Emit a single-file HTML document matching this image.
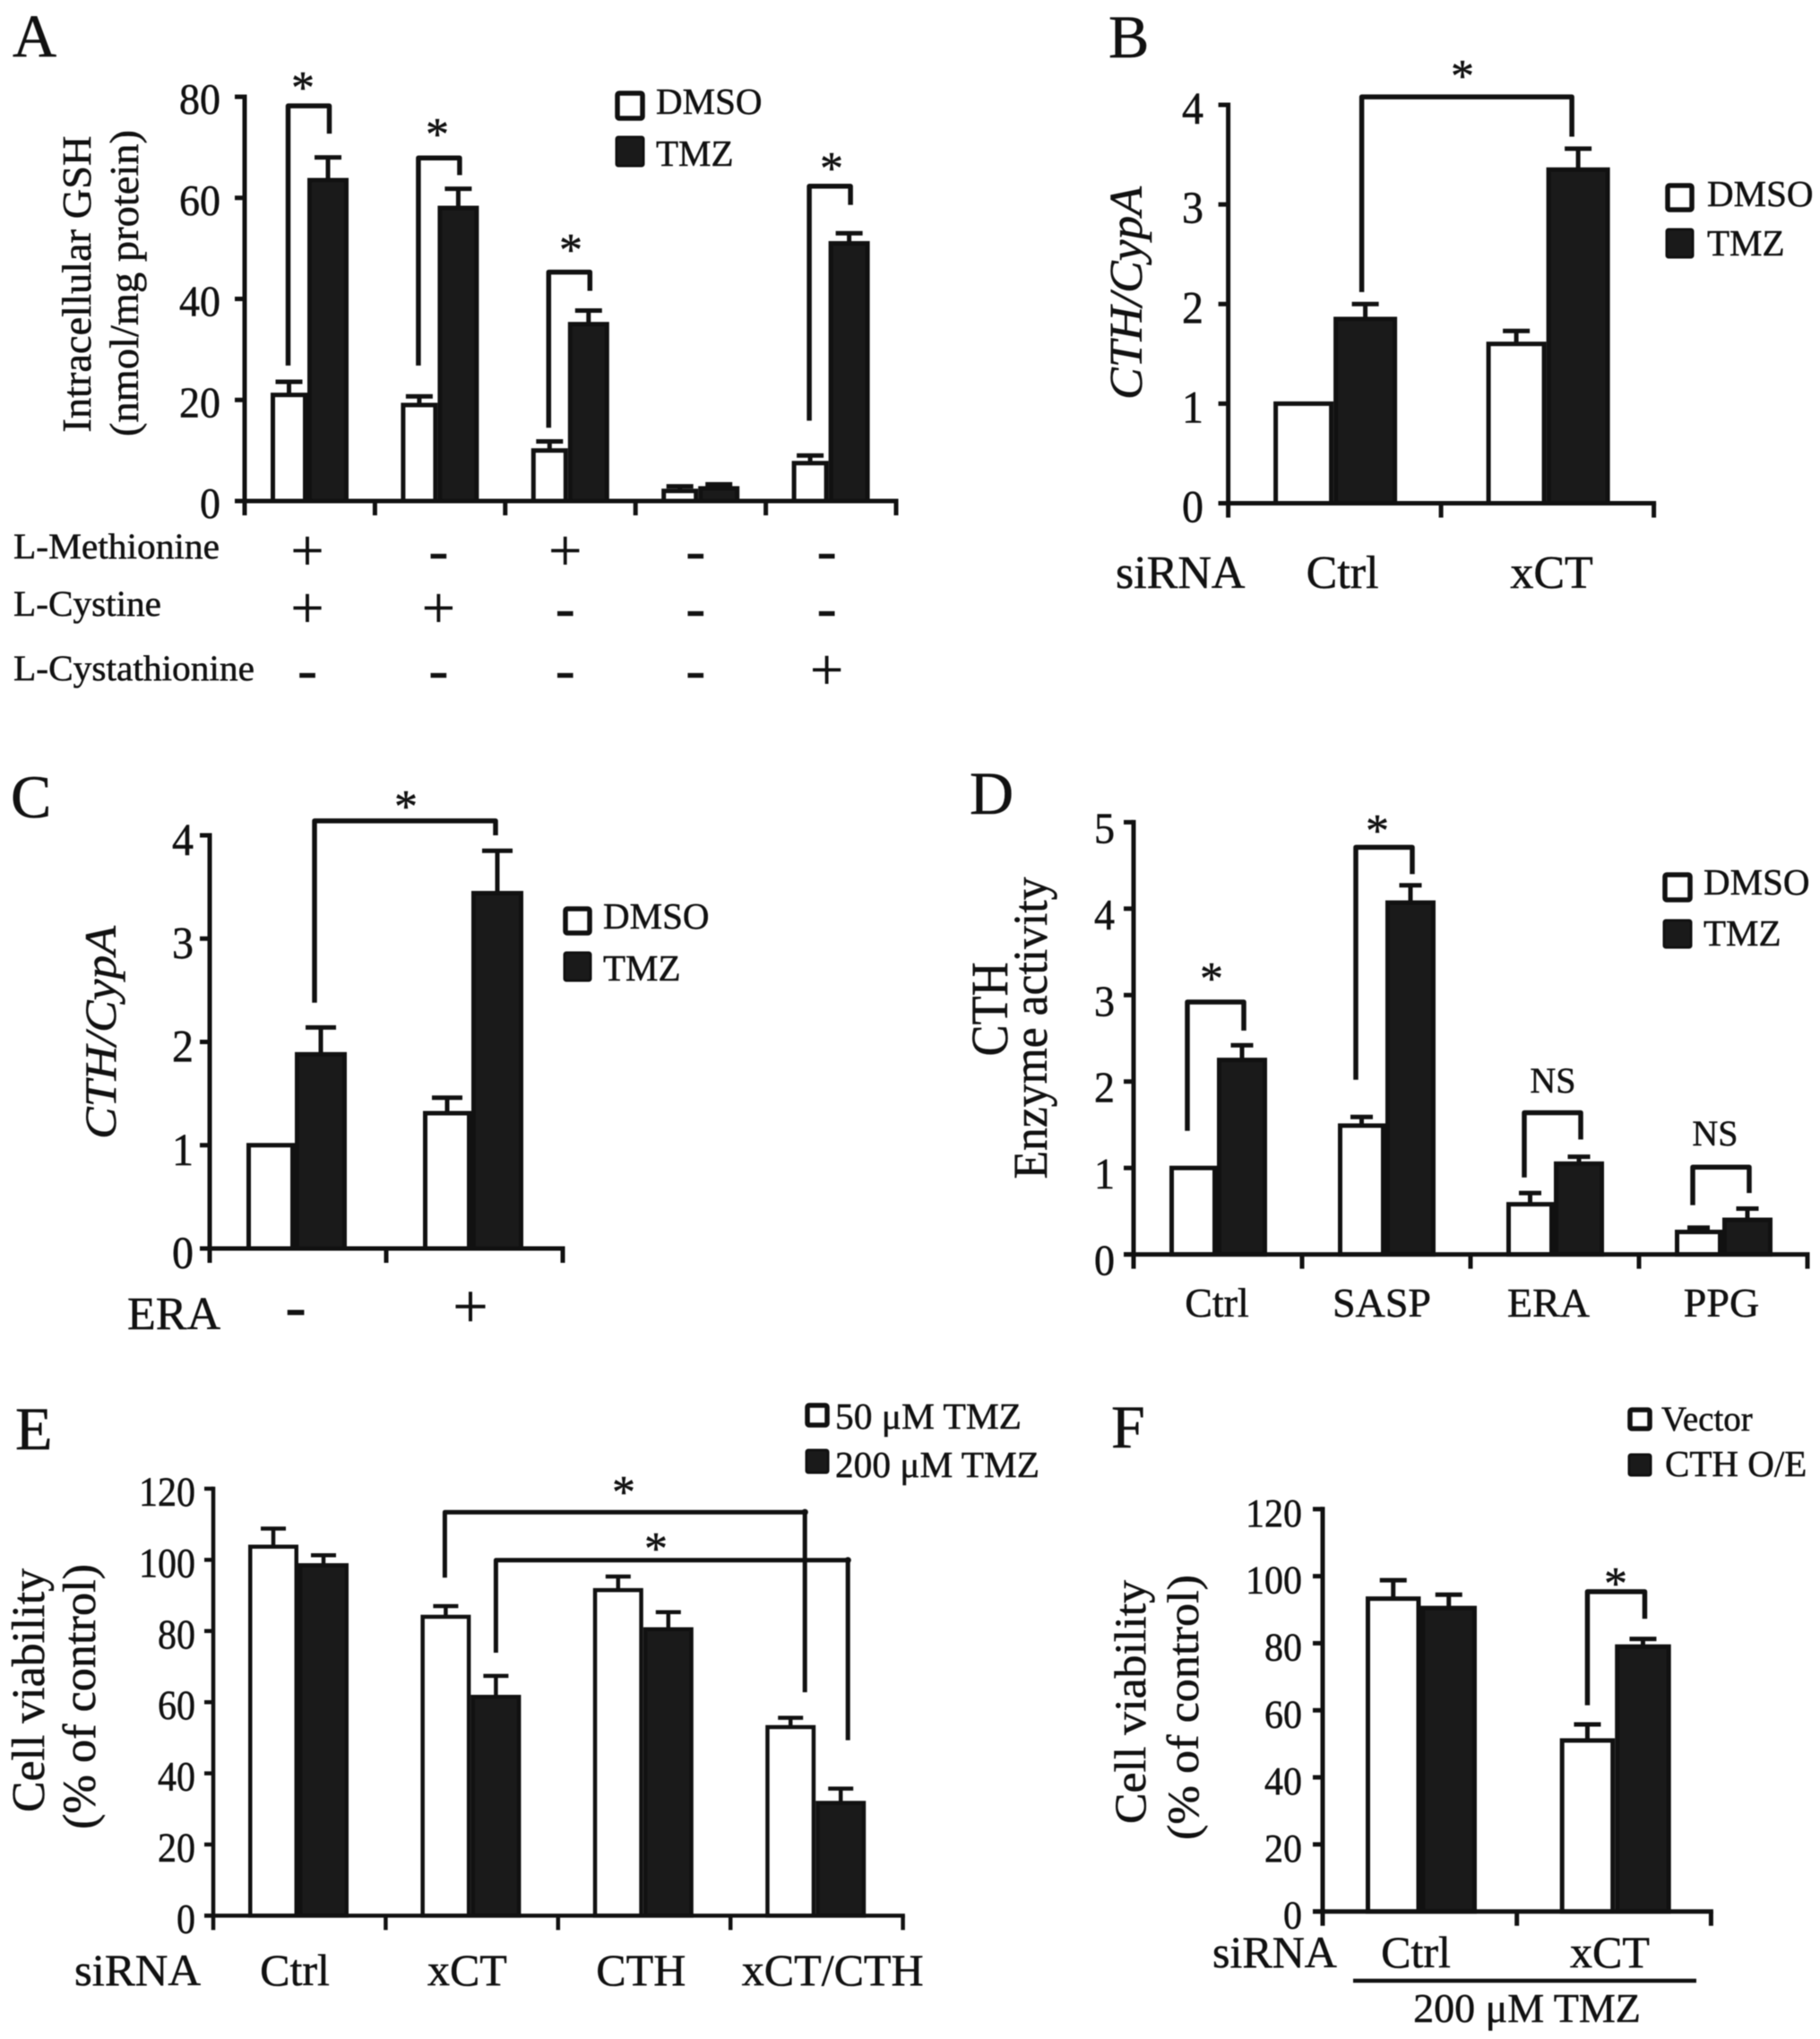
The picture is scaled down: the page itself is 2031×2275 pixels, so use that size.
<!DOCTYPE html>
<html lang="en">
<head>
<meta charset="utf-8">
<title>CTH and GSH bar chart figure</title>
<style>
html,body{margin:0;padding:0;background:#fff;}
#figure{display:block;width:2031px;height:2275px;filter:blur(0.5px);}
text{font-family:"Liberation Serif","DejaVu Serif",serif;fill:#111;stroke:#111;stroke-width:0.5px;}
.box-w{fill:#fff;stroke:#111;stroke-width:5.5;}
.box-k{fill:#1a1a1a;stroke:#111;stroke-width:3;}
</style>
</head>
<body>
<svg id="figure" xmlns="http://www.w3.org/2000/svg" width="2031" height="2275" viewBox="0 0 2031 2275">
<rect x="0" y="0" width="2031" height="2275" fill="#fff"/>

<g id="panel-a">
  <text x="14" y="63" font-size="68">A</text>
  <text transform="translate(101,317) rotate(-90)" text-anchor="middle" font-size="46" textLength="331" lengthAdjust="spacingAndGlyphs">Intracellular GSH</text>
  <text transform="translate(154,316) rotate(-90)" text-anchor="middle" font-size="45" textLength="342" lengthAdjust="spacingAndGlyphs">(nmol/mg protein)</text>
  <g>
    <rect class="box-w" x="689" y="104" width="28" height="28" rx="2"/>
    <text x="732" y="127" font-size="41">DMSO</text>
    <rect class="box-k" x="688" y="153" width="30" height="32" rx="2"/>
    <text x="732" y="185" font-size="41">TMZ</text>
  </g>
  <text x="338" y="115" font-size="52" text-anchor="middle">*</text>
  <text x="488" y="167" font-size="52" text-anchor="middle">*</text>
  <text x="637" y="296" font-size="52" text-anchor="middle">*</text>
  <text x="928" y="205" font-size="52" text-anchor="middle">*</text>
  <text x="15" y="623" font-size="40" textLength="230" lengthAdjust="spacingAndGlyphs">L-Methionine</text>
  <text x="15" y="687" font-size="40" textLength="165" lengthAdjust="spacingAndGlyphs">L-Cystine</text>
  <text x="15" y="759" font-size="40" textLength="269" lengthAdjust="spacingAndGlyphs">L-Cystathionine</text>
</g>

<g id="panel-b">
  <text x="1237" y="64" font-size="68">B</text>
  <text transform="translate(1274,327) rotate(-90)" text-anchor="middle" font-size="52" font-style="italic" textLength="238" lengthAdjust="spacingAndGlyphs">CTH/CypA</text>
  <g>
    <rect class="box-w" x="1861" y="207" width="27" height="27" rx="2"/>
    <text x="1905" y="230" font-size="41">DMSO</text>
    <rect class="box-k" x="1860" y="256" width="29" height="31" rx="2"/>
    <text x="1905" y="285" font-size="41">TMZ</text>
  </g>
  <text x="1632" y="102" font-size="52" text-anchor="middle">*</text>
  <text x="1245" y="656" font-size="52">siRNA</text>
</g>

<g id="panel-c">
  <text x="12" y="912" font-size="68">C</text>
  <text transform="translate(129,1152) rotate(-90)" text-anchor="middle" font-size="50" font-style="italic" textLength="238" lengthAdjust="spacingAndGlyphs">CTH/CypA</text>
  <g>
    <rect class="box-w" x="631" y="1014" width="27" height="27" rx="2"/>
    <text x="673" y="1036" font-size="41">DMSO</text>
    <rect class="box-k" x="630" y="1063" width="29" height="31" rx="2"/>
    <text x="673" y="1094" font-size="41">TMZ</text>
  </g>
  <text x="453" y="917" font-size="52" text-anchor="middle">*</text>
  <text x="142" y="1483" font-size="52">ERA</text>
</g>

<g id="panel-d">
  <text x="1082" y="908" font-size="68">D</text>
  <text transform="translate(1124,1126) rotate(-90)" text-anchor="middle" font-size="58" textLength="105" lengthAdjust="spacingAndGlyphs">CTH</text>
  <text transform="translate(1168,1147) rotate(-90)" text-anchor="middle" font-size="54" textLength="337" lengthAdjust="spacingAndGlyphs">Enzyme activity</text>
  <g>
    <rect class="box-w" x="1858" y="976" width="28" height="28" rx="2"/>
    <text x="1901" y="998" font-size="41">DMSO</text>
    <rect class="box-k" x="1857" y="1027" width="30" height="30" rx="2"/>
    <text x="1901" y="1055" font-size="41">TMZ</text>
  </g>
  <text x="1352" y="1109" font-size="52" text-anchor="middle">*</text>
  <text x="1537" y="944" font-size="52" text-anchor="middle">*</text>
  <text x="1733" y="1219" font-size="40" text-anchor="middle">NS</text>
  <text x="1914" y="1278" font-size="40" text-anchor="middle">NS</text>
</g>

<g id="panel-e">
  <text x="17" y="1617" font-size="68">E</text>
  <text transform="translate(49,1886) rotate(-90)" text-anchor="middle" font-size="52" textLength="272" lengthAdjust="spacingAndGlyphs">Cell viability</text>
  <text transform="translate(106,1893) rotate(-90)" text-anchor="middle" font-size="52" textLength="296" lengthAdjust="spacingAndGlyphs">(% of control)</text>
  <g>
    <rect class="box-w" x="901" y="1568" width="22" height="22" rx="2"/>
    <text x="932" y="1594" font-size="41" textLength="208" lengthAdjust="spacingAndGlyphs">50 μM TMZ</text>
    <rect class="box-k" x="900" y="1618" width="24" height="25" rx="2"/>
    <text x="932" y="1648" font-size="41" textLength="228" lengthAdjust="spacingAndGlyphs">200 μM TMZ</text>
  </g>
  <text x="696" y="1682" font-size="52" text-anchor="middle">*</text>
  <text x="732" y="1745" font-size="52" text-anchor="middle">*</text>
  <text x="83" y="2215" font-size="50" textLength="141" lengthAdjust="spacingAndGlyphs">siRNA</text>
</g>

<g id="panel-f">
  <text x="1240" y="1615" font-size="68">F</text>
  <text transform="translate(1278,1899) rotate(-90)" text-anchor="middle" font-size="50" textLength="272" lengthAdjust="spacingAndGlyphs">Cell viability</text>
  <text transform="translate(1337,1905) rotate(-90)" text-anchor="middle" font-size="50" textLength="296" lengthAdjust="spacingAndGlyphs">(% of control)</text>
  <g>
    <rect class="box-w" x="1819" y="1573" width="22" height="21" rx="2"/>
    <text x="1854" y="1596" font-size="39">Vector</text>
    <rect class="box-k" x="1818" y="1623" width="24" height="23" rx="2"/>
    <text x="1858" y="1647" font-size="41">CTH O/E</text>
  </g>
  <text x="1803" y="1784" font-size="52" text-anchor="middle">*</text>
  <text x="1353" y="2195" font-size="50">siRNA</text>
  <line x1="1510" y1="2210" x2="1893" y2="2210" stroke="#111" stroke-width="4.5"/>
  <text x="1704" y="2256" font-size="46" text-anchor="middle">200 μM TMZ</text>
</g>
</svg>

<script>
// ---------- Panel A data ----------
const aTickLabels = ['0', '20', '40', '60', '80'];
const aDmso = [21, 19, 10, 2, 7.5];
const aTmz = [63.5, 58, 35, 2.5, 51];
const aDmsoTop = [23.6, 20.7, 11.8, 2.9, 9];
const aTmzTop = [68, 61.8, 37.7, 3.3, 53];
const aBracketTop = [78.2, 67.9, 45.3, 62.3];
const aBracketLeftEnd = [26.8, 26.8, 14.5, 15.9];
const aBracketRightEnd = [72.7, 64.5, 41.6, 58.6];
const aBracketGroups = [0, 1, 2, 4];
const aMethionine = ['+', '-', '+', '-', '-'];
const aCystine = ['+', '+', '-', '-', '-'];
const aCystathionine = ['-', '-', '-', '-', '+'];

// ---------- Panel B data ----------
const bTickLabels = ['0', '1', '2', '3', '4'];
const bCategories = ['Ctrl', 'xCT'];
const bDmso = [1, 1.6];
const bTmz = [1.85, 3.35];
const bDmsoTop = [1, 1.73];
const bTmzTop = [2.0, 3.56];
const bBracketTop = [4.08];
const bBracketLeftEnd = [2.12];
const bBracketRightEnd = [3.68];

// ---------- Panel C data ----------
const cTickLabels = ['0', '1', '2', '3', '4'];
const cCategories = ['-', '+'];
const cDmso = [1, 1.31];
const cTmz = [1.88, 3.44];
const cDmsoTop = [1, 1.46];
const cTmzTop = [2.14, 3.85];
const cBracketTop = [4.14];
const cBracketLeftEnd = [2.38];
const cBracketRightEnd = [4.0];

// ---------- Panel D data ----------
const dTickLabels = ['0', '1', '2', '3', '4', '5'];
const dCategories = ['Ctrl', 'SASP', 'ERA', 'PPG'];
const dDmso = [1, 1.49, 0.58, 0.26];
const dTmz = [2.25, 4.07, 1.05, 0.4];
const dDmsoTop = [1, 1.59, 0.71, 0.31];
const dTmzTop = [2.42, 4.27, 1.13, 0.53];
const dBracketTop = [2.92, 4.71, 1.64, 1.01];
const dBracketLeftEnd = [1.43, 2.02, 0.89, 0.57];
const dBracketRightEnd = [2.59, 4.4, 1.33, 0.71];

// ---------- Panel E data ----------
const eTickLabels = ['0', '20', '40', '60', '80', '100', '120'];
const eCategories = ['Ctrl', 'xCT', 'CTH', 'xCT/CTH'];
const e50um = [103.7, 84, 91.5, 53];
const e200um = [98.5, 61.5, 80.5, 31.7];
const e50umTop = [108.8, 87, 95.3, 55.6];
const e200umTop = [101.3, 67.4, 85.3, 35.7];
const eBracketTop = [113.4, 99.9];
const eBracketLeftEnd = [95, 73.9];
const eBracketRightEnd = [62.8, 49.3];

// ---------- Panel F data ----------
const fTickLabels = ['0', '20', '40', '60', '80', '100', '120'];
const fCategories = ['Ctrl', 'xCT'];
const fVector = [93.3, 51];
const fCthOe = [90.5, 79];
const fVectorTop = [98.8, 55.8];
const fCthOeTop = [94.5, 81.3];
const fBracketTop = [95.4];
const fBracketLeftEnd = [61.5];
const fBracketRightEnd = [87.3];

const SVGNS = 'http://www.w3.org/2000/svg';
const INK = '#111';
const FILL_DARK = '#1a1a1a';

function shape(parent, tag, name, attrs) {
  const el = document.createElementNS(SVGNS, tag);
  for (const k in attrs) el.setAttribute(k, attrs[k]);
  
  
  parent.appendChild(el);
  return el;
}
function label(parent, name, str, attrs) {
  const el = shape(parent, 'text', name, attrs);
  el.textContent = str;
  return el;
}

function drawPanel(p) {
  const root = document.getElementById(p.id);
  const yMax = parseFloat(p.ticks[p.ticks.length - 1]);
  const y = v => p.yZero - (v / yMax) * (p.yZero - p.yTop);
  const gx = i => p.axisX + i * p.groupW;
  const whiteX = i => gx(i) + p.whiteOff;
  const blackX = i => whiteX(i) + p.whiteW;
  const whiteC = i => whiteX(i) + p.whiteW / 2;
  const blackC = i => blackX(i) + p.blackW / 2;
  const sw = p.sw;

  function errorBar(name, cx, from, to) {
    shape(root, 'line', name + '-stem', {x1: cx, x2: cx, y1: y(from), y2: y(to), stroke: INK, 'stroke-width': sw});
    shape(root, 'line', name + '-cap', {x1: cx - p.capW / 2, x2: cx + p.capW / 2, y1: y(to), y2: y(to), stroke: INK, 'stroke-width': sw});
  }

  p.series0.forEach((v, i) => {
    if (p.top0[i] > v) errorBar('error-bar-' + p.key + '-s1-' + i, whiteC(i), v, p.top0[i]);
    if (p.top1[i] > p.series1[i]) errorBar('error-bar-' + p.key + '-s2-' + i, blackC(i), p.series1[i], p.top1[i]);
    shape(root, 'rect', 'bar-' + p.key + '-s1-' + i, {
      x: whiteX(i) + sw / 2, y: y(v), width: p.whiteW - sw, height: p.yZero - y(v),
      fill: '#fff', stroke: INK, 'stroke-width': sw
    });
    shape(root, 'rect', 'bar-' + p.key + '-s2-' + i, {
      x: blackX(i) + sw / 2, y: y(p.series1[i]), width: p.blackW - sw, height: p.yZero - y(p.series1[i]),
      fill: FILL_DARK, stroke: INK, 'stroke-width': sw
    });
  });

  // axes
  const lastX = gx(p.groups);
  shape(root, 'line', 'y-axis-' + p.key, {x1: p.axisX, x2: p.axisX, y1: p.yTop - sw / 2, y2: p.yZero, stroke: INK, 'stroke-width': sw});
  shape(root, 'line', 'x-axis-' + p.key, {x1: p.axisX - p.tickY, x2: lastX + sw / 2, y1: p.yZero, y2: p.yZero, stroke: INK, 'stroke-width': sw});
  for (let i = 0; i <= p.groups; i++) {
    shape(root, 'line', 'x-tick-' + p.key + '-' + i, {x1: gx(i), x2: gx(i), y1: p.yZero, y2: p.yZero + p.tickX, stroke: INK, 'stroke-width': sw});
  }
  p.ticks.forEach(t => {
    const ty = y(parseFloat(t));
    shape(root, 'line', 'y-tick-' + p.key + '-' + t, {x1: p.axisX - p.tickY, x2: p.axisX, y1: ty, y2: ty, stroke: INK, 'stroke-width': sw});
    label(root, 'y-tick-label-' + p.key + '-' + t, t, {
      transform: 'translate(' + p.labelRight + ',' + (ty + p.labelDy) + ') scale(1,' + p.labelSy + ')',
      'text-anchor': 'end', 'font-size': p.labelFs
    });
  });

  // brackets
  p.brackets.forEach((b, i) => {
    const xl = b.left(gx, whiteC, blackC);
    const xr = b.right(gx, whiteC, blackC);
    const d = 'M' + xl + ' ' + y(p.brLeft[i]) + ' V' + y(p.brTop[i]) + ' H' + xr + ' V' + y(p.brRight[i]);
    shape(root, 'path', 'bracket-' + p.key + '-' + i, {d: d, fill: 'none', stroke: INK, 'stroke-width': sw + 0.5, 'stroke-linejoin': 'round'});
    if (p.brDots) {
      shape(root, 'circle', 'bracket-end-' + p.key + '-' + i, {cx: xr, cy: y(p.brTop[i]), r: sw * 0.8, fill: INK});
    }
  });

  // category labels
  if (p.categories) {
    p.categories.forEach((c, i) => {
      label(root, 'category-label-' + p.key + '-' + i, c, {
        x: gx(i) + p.catOffsets[i], y: p.catY, 'text-anchor': 'middle', 'font-size': p.catFs
      });
    });
  }
  return {gx: gx};
}

const panelA = drawPanel({
  id: 'panel-a', key: 'a', axisX: 273, yTop: 108, yZero: 559, groupW: 145.4, groups: 5,
  whiteOff: 29, whiteW: 41, blackW: 46, capW: 30, sw: 5, tickY: 11, tickX: 16,
  ticks: aTickLabels, labelRight: 246, labelFs: 46, labelDy: 19, labelSy: 1.05,
  series0: aDmso, series1: aTmz, top0: aDmsoTop, top1: aTmzTop,
  brTop: aBracketTop, brLeft: aBracketLeftEnd, brRight: aBracketRightEnd,
  brackets: aBracketGroups.map(g => ({
    left: (gx) => gx(g) + 48.5,
    right: (gx) => gx(g) + 94.5
  }))
});

// L-amino-acid rows under panel A
const aRoot = document.getElementById('panel-a');
const aSignOffsets = [70, 71, 67, 67, 68];
[[aMethionine, 636, 'methionine'], [aCystine, 700, 'cystine'], [aCystathionine, 769, 'cystathionine']].forEach(row => {
  row[0].forEach((s, i) => {
    label(aRoot, 'sign-' + row[2] + '-' + i, s, {
      x: panelA.gx(i) + aSignOffsets[i], y: row[1], 'text-anchor': 'middle', 'font-size': 66
    });
  });
});

drawPanel({
  id: 'panel-b', key: 'b', axisX: 1370.6, yTop: 117, yZero: 561.5, groupW: 237.5, groups: 2,
  whiteOff: 50.5, whiteW: 67, blackW: 71, capW: 30, sw: 5, tickY: 11, tickX: 16,
  ticks: bTickLabels, labelRight: 1343, labelFs: 48, labelDy: 21, labelSy: 1.05,
  series0: bDmso, series1: bTmz, top0: bDmsoTop, top1: bTmzTop,
  brTop: bBracketTop, brLeft: bBracketLeftEnd, brRight: bBracketRightEnd,
  brackets: [{
    left: (gx, w, k) => k(0) - 4,
    right: (gx, w, k) => k(1) - 7
  }],
  categories: bCategories, catOffsets: [127.5, 123.5], catY: 656, catFs: 52
});

drawPanel({
  id: 'panel-c', key: 'c', axisX: 234, yTop: 932, yZero: 1393, groupW: 197, groups: 2,
  whiteOff: 41, whiteW: 54, blackW: 58, capW: 34, sw: 5, tickY: 11, tickX: 16,
  ticks: cTickLabels, labelRight: 216, labelFs: 48, labelDy: 22, labelSy: 1.05,
  series0: cDmso, series1: cTmz, top0: cDmsoTop, top1: cTmzTop,
  brTop: cBracketTop, brLeft: cBracketLeftEnd, brRight: cBracketRightEnd,
  brackets: [{
    left: (gx, w, k) => k(0) - 7,
    right: (gx, w, k) => k(1) - 2
  }],
  categories: cCategories, catOffsets: [96, 94], catY: 1481, catFs: 70
});

drawPanel({
  id: 'panel-d', key: 'd', axisX: 1265, yTop: 917.4, yZero: 1399.6, groupW: 188, groups: 4,
  whiteOff: 40, whiteW: 53, blackW: 56, capW: 25, sw: 5, tickY: 11, tickX: 16,
  ticks: dTickLabels, labelRight: 1244, labelFs: 46, labelDy: 23, labelSy: 1.05,
  series0: dDmso, series1: dTmz, top0: dDmsoTop, top1: dTmzTop,
  brTop: dBracketTop, brLeft: dBracketLeftEnd, brRight: dBracketRightEnd,
  brackets: dCategories.map((_, g) => ({
    left: (gx) => gx(g) + 60,
    right: (gx) => gx(g) + 123
  })),
  categories: dCategories, catOffsets: [93, 89, 87, 92], catY: 1469, catFs: 46
});

drawPanel({
  id: 'panel-e', key: 'e', axisX: 238, yTop: 1661, yZero: 2137.4, groupW: 192.4, groups: 4,
  whiteOff: 39, whiteW: 56, blackW: 56, capW: 28, sw: 4.5, tickY: 10, tickX: 16,
  ticks: eTickLabels, labelRight: 218, labelFs: 42, labelDy: 19, labelSy: 1.1,
  series0: e50um, series1: e200um, top0: e50umTop, top1: e200umTop,
  brTop: eBracketTop, brLeft: eBracketLeftEnd, brRight: eBracketRightEnd, brDots: true,
  brackets: [
    {left: (gx, w) => w(1) - 1, right: (gx, w) => w(3) + 16},
    {left: (gx, w, k) => k(1), right: (gx, w, k) => k(3) + 8}
  ],
  categories: eCategories, catOffsets: [91, 91, 92.5, 114], catY: 2215, catFs: 50
});

drawPanel({
  id: 'panel-f', key: 'f', axisX: 1476, yTop: 1683.8, yZero: 2132.7, groupW: 216.7, groups: 2,
  whiteOff: 48, whiteW: 61.5, blackW: 62.5, capW: 30, sw: 5, tickY: 11, tickX: 16,
  ticks: fTickLabels, labelRight: 1453, labelFs: 42, labelDy: 19, labelSy: 1.05,
  series0: fVector, series1: fCthOe, top0: fVectorTop, top1: fCthOeTop,
  brTop: fBracketTop, brLeft: fBracketLeftEnd, brRight: fBracketRightEnd,
  brackets: [{
    left: (gx, w) => w(1),
    right: (gx, w, k) => k(1) + 2
  }],
  categories: fCategories, catOffsets: [104, 103.8], catY: 2195, catFs: 50
});
</script>
</body>
</html>
